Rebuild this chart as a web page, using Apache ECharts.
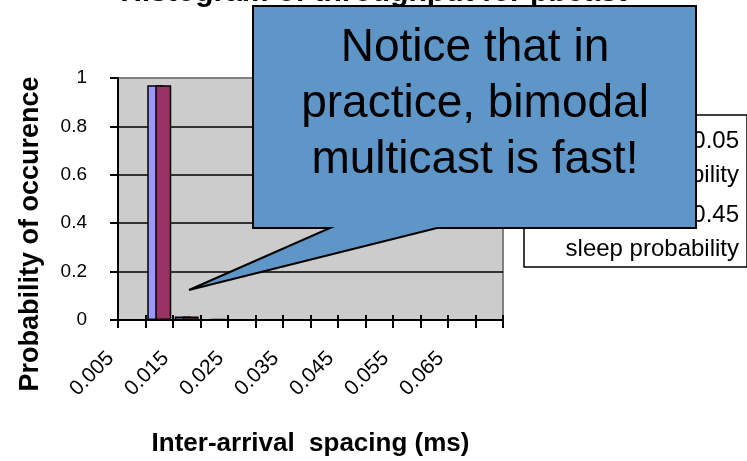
<!DOCTYPE html>
<html>
<head>
<meta charset="utf-8">
<script src="https://cdn.jsdelivr.net/npm/echarts@6/dist/echarts.min.js"></script>
<style>
html,body{margin:0;padding:0;background:#fff;}
#chart{width:747px;height:461px;}
</style>
</head>
<body>
<div id="chart"></div>
<script>
// ---- data ----
var categories = ['0.005','0.01','0.015','0.02','0.025','0.03','0.035','0.04','0.045','0.05','0.055','0.06','0.065','0.07'];
var seriesNames = ['0.05 sleep probability', '0.45 sleep probability'];
var sleep005 = [0, 0.97, 0.014, 0, 0, 0, 0, 0, 0, 0, 0, 0, 0, 0];
var sleep045 = [0, 0.97, 0.014, 0.004, 0, 0, 0, 0, 0, 0, 0, 0, 0, 0];
var yTicks = [0, 0.2, 0.4, 0.6, 0.8, 1];
var titleText = 'Histogram of throughput for pbcast';
var xTitle = 'Inter-arrival  spacing (ms)';
var yTitle = 'Probability of occurence';
var calloutText = 'Notice that in\npractice, bimodal\nmulticast is fast!';

var FONT = '"Liberation Sans", Arial, sans-serif';
var colors = ['#9999ff', '#993366'];

var chart = echarts.init(document.getElementById('chart'));

var option = {
  animation: false,
  backgroundColor: '#ffffff',
  title: {
    text: titleText,
    left: 'center',
    top: -27,
    textStyle: { fontFamily: FONT, fontSize: 30, fontWeight: 'bold', color: '#000', lineHeight: 30 }
  },
  legend: {
    orient: 'vertical',
    left: 524,
    top: 115,
    backgroundColor: '#ffffff',
    borderColor: '#000',
    borderWidth: 1.5,
    borderRadius: 0,
    padding: [14, 8, 6, 9],
    itemGap: 16,
    itemWidth: 0,
    itemHeight: 0,
    data: seriesNames,
    formatter: function (name) {
      var i = name.indexOf(' ');
      var idx = seriesNames.indexOf(name);
      return '{sq' + idx + '|}{r|' + name.slice(0, i) + '}\n{w|' + name.slice(i + 1) + '}';
    },
    textStyle: {
      fontFamily: FONT, fontSize: 24, color: '#000',
      rich: {
        sq0: { width: 12, height: 12, backgroundColor: colors[0], borderColor: '#000', borderWidth: 1 },
        sq1: { width: 12, height: 12, backgroundColor: colors[1], borderColor: '#000', borderWidth: 1 },
        r: { width: 182, align: 'right', fontFamily: FONT, fontSize: 24, lineHeight: 34, color: '#000' },
        w: { width: 200, align: 'right', fontFamily: FONT, fontSize: 24, lineHeight: 34, color: '#000' }
      }
    }
  },
  grid: {
    left: 118, top: 78, width: 385, height: 242,
    outerBoundsMode: 'none',
    show: true, backgroundColor: '#cccccc', borderColor: '#808080', borderWidth: 2
  },
  xAxis: [{
    type: 'category',
    data: categories,
    boundaryGap: true,
    name: xTitle,
    nameLocation: 'middle',
    nameGap: 111,
    nameMoveOverlap: false,
    nameTextStyle: { fontFamily: FONT, fontSize: 26, fontWeight: 'bold', color: '#000' },
    axisLine: { show: true, lineStyle: { color: '#000', width: 2 } },
    axisTick: { show: true, interval: 0, length: 8, lineStyle: { color: '#000', width: 2 } },
    axisLabel: {
      interval: 1, rotate: 45, margin: 14, padding: [0, 30, 0, 0],
      fontFamily: FONT, fontSize: 21, color: '#000'
    },
    splitLine: { show: false }
  }, {
    type: 'category',
    data: categories,
    boundaryGap: true,
    position: 'bottom',
    axisLine: { show: false },
    axisTick: { show: true, inside: true, interval: 0, length: 5, lineStyle: { color: '#000', width: 2 } },
    axisLabel: { show: false },
    splitLine: { show: false }
  }],
  yAxis: {
    type: 'value',
    min: yTicks[0],
    max: yTicks[yTicks.length - 1],
    interval: 0.2,
    name: yTitle,
    nameLocation: 'middle',
    nameGap: 74,
    nameRotate: 90,
    nameMoveOverlap: false,
    nameTextStyle: { fontFamily: FONT, fontSize: 27, fontWeight: 'bold', color: '#000', padding: [0, 70, 0, 0] },
    axisLine: { show: true, lineStyle: { color: '#000', width: 2 } },
    axisTick: { show: true, length: 8, lineStyle: { color: '#000', width: 2 } },
    axisLabel: { margin: 31, fontFamily: FONT, fontSize: 19, color: '#000' },
    splitLine: { show: true, showMaxLine: false, lineStyle: { color: '#000', width: 1.5 } }
  },
  series: [{
    name: seriesNames[0],
    type: 'bar',
    data: sleep005,
    barWidth: 16,
    barGap: '-50%',
    itemStyle: { color: colors[0], borderColor: '#000', borderWidth: 1.5 }
  }, {
    name: seriesNames[1],
    type: 'bar',
    data: sleep045,
    barWidth: 16,
    barGap: '-50%',
    itemStyle: { color: colors[1], borderColor: '#000', borderWidth: 1.5 }
  }],
  graphic: [{
    type: 'polygon',
    z: 100,
    shape: {
      points: [[253, 6], [696, 6], [696, 228], [437, 228], [189, 290], [330, 228], [253, 228]]
    },
    style: { fill: '#5f96c8', stroke: '#000', lineWidth: 2 }
  }, {
    type: 'text',
    z: 101,
    x: 475,
    y: 104,
    style: {
      text: calloutText,
      fontFamily: FONT,
      fontSize: 46,
      lineHeight: 56,
      fill: '#000',
      align: 'center',
      verticalAlign: 'middle'
    }
  }]
};

chart.setOption(option);
</script>
</body>
</html>
